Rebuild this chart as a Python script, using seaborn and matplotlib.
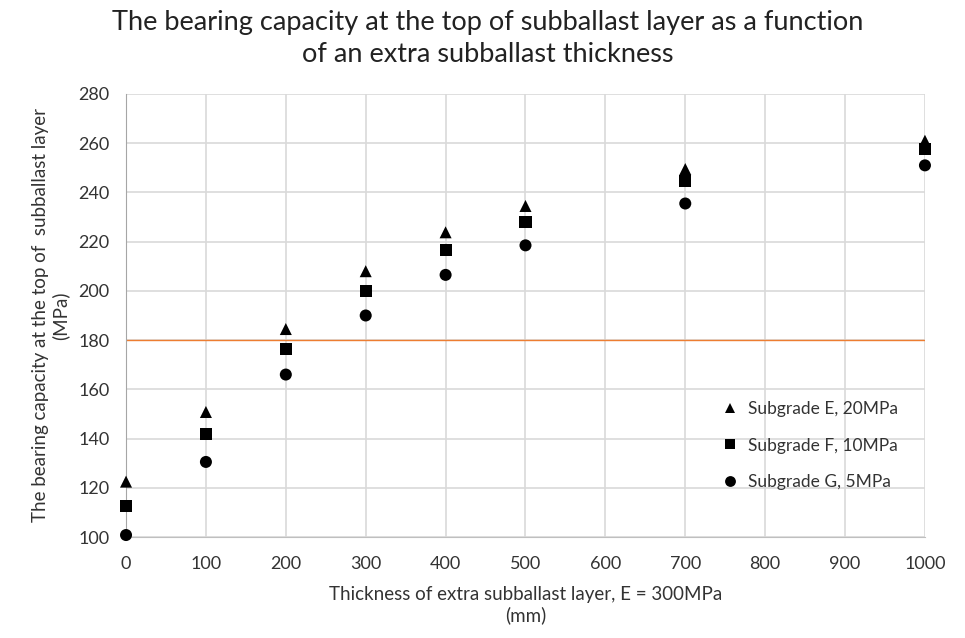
import pandas as pd
import matplotlib
matplotlib.use("Agg")
import matplotlib.pyplot as plt
import seaborn as sns


# Data
THICKNESS = [0, 100, 200, 300, 400, 500, 700, 1000]
SUBGRADE_E = [122.5, 150.8, 184.5, 208.0, 223.8, 234.5, 249.5, 261.0]
SUBGRADE_F = [112.5, 141.8, 176.5, 200.0, 216.5, 228.0, 244.5, 257.5]
SUBGRADE_G = [100.8, 130.5, 166.0, 190.0, 206.5, 218.5, 235.5, 251.0]
SERIES_NAMES = ["Subgrade E, 20MPa", "Subgrade F, 10MPa", "Subgrade G, 5MPa"]
LIMIT = 180

X_TICKS = list(range(0, 1001, 100))
Y_TICKS = list(range(100, 281, 20))


# Build long-form table for seaborn
def build_dataframe():
    frames = []
    for name, values in zip(SERIES_NAMES, [SUBGRADE_E, SUBGRADE_F, SUBGRADE_G]):
        frames.append(pd.DataFrame({"thickness": THICKNESS, "capacity": values, "series": name}))
    return pd.concat(frames, ignore_index=True)


def draw_chart(df):
    sns.set_style("white")
    plt.rcParams["font.family"] = ["Lato", "DejaVu Sans"]

    fig = plt.figure(figsize=(9.65, 6.38), dpi=100)
    ax = fig.add_axes([0.1306, 0.1583, 0.8279, 0.6944])

    ax.axhline(LIMIT, color="#ED7D31", linewidth=1.0, zorder=2)

    sns.scatterplot(
        data=df, x="thickness", y="capacity",
        style="series", hue="series",
        markers={SERIES_NAMES[0]: "^", SERIES_NAMES[1]: "s", SERIES_NAMES[2]: "o"},
        palette=["black", "black", "black"],
        s=75, edgecolor="black", linewidth=0,
        ax=ax, zorder=3, clip_on=False,
    )

    ax.set_xlim(0, 1000)
    ax.set_ylim(100, 280)
    ax.set_xticks(X_TICKS)
    ax.set_yticks(Y_TICKS)
    ax.tick_params(axis="both", length=0, labelsize=13, colors="#333333")
    ax.tick_params(axis="x", pad=14)
    ax.tick_params(axis="y", pad=12)
    ax.grid(True, color="#d9d9d9", linewidth=1.2)
    ax.set_axisbelow(True)

    for side in ["top", "right"]:
        ax.spines[side].set_visible(False)
    ax.spines["left"].set_color("#a6a6a6")
    ax.spines["bottom"].set_color("#bfbfbf")

    ax.set_xlabel("Thickness of extra subballast layer, E = 300MPa\n(mm)",
                  fontsize=13.5, color="#333333", labelpad=10)
    ax.set_ylabel("The bearing capacity at the top of  subballast layer\n(MPa)",
                  fontsize=13.5, color="#333333", labelpad=6)
    fig.suptitle("The bearing capacity at the top of subballast layer as a function\n"
                 "of an extra subballast thickness",
                 x=0.505, y=0.985, fontsize=19.5, color="#222222", linespacing=1.35)

    legend = ax.legend(loc="lower left", bbox_to_anchor=(0.715, 0.07), frameon=False,
                       fontsize=12.5, labelspacing=1.2, handletextpad=0.0,
                       markerscale=0.9)
    for text in legend.get_texts():
        text.set_color("#333333")

    fig.savefig("out.png", dpi=100)


def main():
    df = build_dataframe()
    draw_chart(df)


if __name__ == "__main__":
    main()
